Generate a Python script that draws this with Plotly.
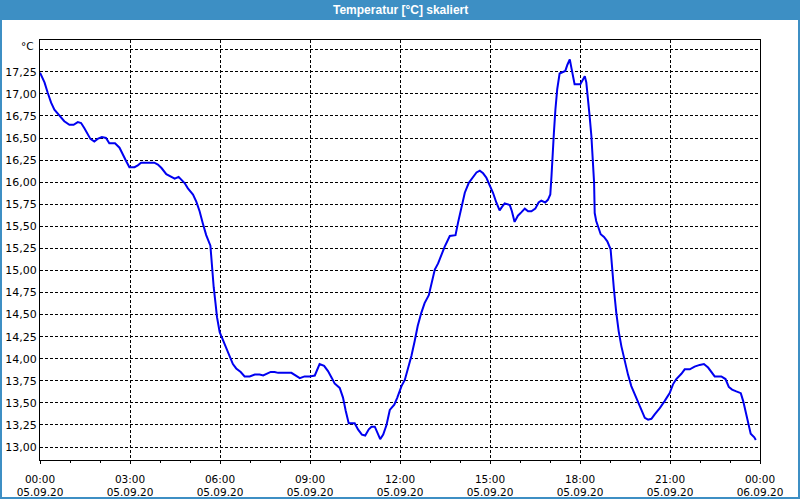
import datetime as dt
import plotly.graph_objects as go

# hours after 05.09.20 00:00 and temperature in °C
hours = [0.00, 0.15, 0.26, 0.37, 0.48, 0.65, 0.81, 0.98, 1.12, 1.26, 1.37, 1.48, 1.59, 1.68, 1.81, 1.92,
         2.06, 2.20, 2.31, 2.50, 2.65, 2.76, 2.87, 2.98, 3.15, 3.26, 3.37, 3.59, 3.81, 3.93, 4.05, 4.21,
         4.38, 4.49, 4.62, 4.71, 4.82, 4.93, 5.10, 5.21, 5.32, 5.43, 5.54, 5.68, 5.73, 5.79, 5.85, 5.90,
         5.99, 6.10, 6.21, 6.32, 6.43, 6.54, 6.69, 6.82, 6.99, 7.16, 7.32, 7.44, 7.55, 7.69, 7.82, 7.94,
         8.38, 8.49, 8.66, 8.82, 8.99, 9.16, 9.25, 9.32, 9.47, 9.60, 9.73, 9.82, 9.99, 10.10, 10.19, 10.29,
         10.49, 10.60, 10.73, 10.84, 10.96, 11.05, 11.16, 11.25, 11.34, 11.44, 11.55, 11.66, 11.81, 11.91,
         11.99, 12.05, 12.16, 12.27, 12.38, 12.49, 12.59, 12.71, 12.82, 12.96, 13.05, 13.16, 13.27, 13.38,
         13.49, 13.66, 13.85, 13.94, 14.05, 14.16, 14.29, 14.44, 14.55, 14.66, 14.77, 14.88, 14.99, 15.10,
         15.21, 15.32, 15.40, 15.49, 15.66, 15.73, 15.82, 15.93, 16.05, 16.16, 16.27, 16.38, 16.51, 16.62,
         16.71, 16.84, 16.93, 17.01, 17.05, 17.08, 17.13, 17.18, 17.24, 17.32, 17.43, 17.51, 17.58, 17.66,
         17.71, 17.77, 17.82, 18.01, 18.07, 18.16, 18.21, 18.27, 18.32, 18.38, 18.43, 18.47, 18.49, 18.54,
         18.60, 18.69, 18.80, 18.91, 19.02, 19.06, 19.13, 19.21, 19.29, 19.38, 19.49, 19.60, 19.71, 19.82,
         19.94, 20.05, 20.16, 20.27, 20.38, 20.49, 20.66, 20.82, 20.99, 21.10, 21.21, 21.38, 21.49, 21.66,
         21.82, 21.99, 22.13, 22.27, 22.41, 22.49, 22.71, 22.85, 22.96, 23.07, 23.21, 23.36, 23.44, 23.53,
         23.61, 23.69, 23.81, 23.86]
temps = [17.24, 17.13, 17.01, 16.90, 16.82, 16.75, 16.69, 16.65, 16.65, 16.68, 16.67, 16.61, 16.54, 16.49, 16.46, 16.49,
         16.51, 16.50, 16.44, 16.44, 16.39, 16.31, 16.24, 16.17, 16.17, 16.19, 16.22, 16.22, 16.22, 16.20, 16.16, 16.09,
         16.06, 16.04, 16.06, 16.03, 15.99, 15.93, 15.86, 15.78, 15.67, 15.53, 15.40, 15.28, 15.04, 14.81, 14.63, 14.47,
         14.30, 14.21, 14.11, 14.02, 13.94, 13.89, 13.85, 13.80, 13.80, 13.82, 13.82, 13.81, 13.83, 13.85, 13.85, 13.84,
         13.84, 13.82, 13.78, 13.80, 13.80, 13.81, 13.88, 13.94, 13.92, 13.86, 13.78, 13.72, 13.67, 13.56, 13.41, 13.27,
         13.27, 13.20, 13.14, 13.13, 13.20, 13.23, 13.23, 13.16, 13.09, 13.14, 13.25, 13.42, 13.48, 13.56,
         13.63, 13.69, 13.76, 13.89, 14.03, 14.20, 14.37, 14.52, 14.63, 14.72, 14.84, 15.01, 15.08, 15.18,
         15.27, 15.39, 15.40, 15.55, 15.72, 15.88, 15.99, 16.06, 16.11, 16.13, 16.10, 16.05, 15.97, 15.88,
         15.77, 15.68, 15.72, 15.76, 15.74, 15.67, 15.55, 15.62, 15.66, 15.70, 15.67, 15.67, 15.70, 15.77,
         15.79, 15.77, 15.80, 15.86, 16.07, 16.30, 16.56, 16.82, 17.05, 17.23, 17.25, 17.26, 17.33, 17.39,
         17.30, 17.20, 17.11, 17.11, 17.14, 17.20, 17.13, 16.96, 16.75, 16.52, 16.26, 15.99, 15.65, 15.56,
         15.50, 15.41, 15.38, 15.33, 15.24, 15.05, 14.79, 14.52, 14.31, 14.14, 13.97, 13.82, 13.69, 13.60,
         13.52, 13.42, 13.33, 13.31, 13.32, 13.37, 13.44, 13.52, 13.61, 13.71, 13.77, 13.83, 13.88, 13.88,
         13.91, 13.93, 13.94, 13.90, 13.84, 13.80, 13.80, 13.77, 13.68, 13.65, 13.63, 13.61, 13.52, 13.39,
         13.27, 13.15, 13.11, 13.08]

x_tick_hours = [0, 3, 6, 9, 12, 15, 18, 21, 24]
x_tick_labels = ["00:00<br>05.09.20", "03:00<br>05.09.20", "06:00<br>05.09.20", "09:00<br>05.09.20",
                 "12:00<br>05.09.20", "15:00<br>05.09.20", "18:00<br>05.09.20", "21:00<br>05.09.20",
                 "00:00<br>06.09.20"]
y_tick_vals = [13.00, 13.25, 13.50, 13.75, 14.00, 14.25, 14.50, 14.75, 15.00, 15.25, 15.50, 15.75,
               16.00, 16.25, 16.50, 16.75, 17.00, 17.25, 17.50]
y_tick_labels = ["13,00", "13,25", "13,50", "13,75", "14,00", "14,25", "14,50", "14,75", "15,00", "15,25",
                 "15,50", "15,75", "16,00", "16,25", "16,50", "16,75", "17,00", "17,25", ""]

base = dt.datetime(2020, 9, 5)
times = [base + dt.timedelta(hours=h) for h in hours]
tickvals = [base + dt.timedelta(hours=h) for h in x_tick_hours]

FONT = "DejaVu Sans"
W, H = 800, 500
L, R, T, B = 40, 40, 40, 40
pw, ph = W - L - R, H - T - B


def px(x):
    return (x - L) / pw


def py(y):
    return (H - B - y) / ph


fig = go.Figure()
fig.add_trace(go.Scatter(x=times, y=temps, mode="lines",
                         line=dict(color="#0000f0", width=2), showlegend=False))

fig.update_layout(
    width=W, height=H,
    margin=dict(l=L, r=R, t=T, b=B, autoexpand=False),
    paper_bgcolor="white", plot_bgcolor="white",
    font=dict(family=FONT, size=10.5, color="black"),
    xaxis=dict(
        type="date", automargin=False,
        range=[base, base + dt.timedelta(hours=24)],
        tickmode="array", tickvals=tickvals, ticktext=x_tick_labels,
        tickfont=dict(size=10.5),
        showgrid=True, gridcolor="black", gridwidth=1, griddash="3px,2px",
        showline=True, linecolor="black", linewidth=1, mirror=True,
        ticks="outside", ticklen=3, tickcolor="black", ticklabelstandoff=6,
        minor=dict(dtick=3600000, ticks="outside", ticklen=2, tickcolor="black", showgrid=False),
        zeroline=False, fixedrange=True,
    ),
    yaxis=dict(
        automargin=False,
        range=[12.853, 17.61],
        tickmode="array", tickvals=y_tick_vals, ticktext=y_tick_labels,
        tickfont=dict(size=11),
        showgrid=True, gridcolor="black", gridwidth=1, griddash="3px,2px",
        showline=True, linecolor="black", linewidth=1, mirror=True,
        ticks="", zeroline=False, fixedrange=True,
    ),
    shapes=[
        dict(type="rect", xref="paper", yref="paper",
             x0=px(0), x1=px(800), y0=py(0), y1=py(20),
             fillcolor="#3d8fc4", line=dict(width=0), layer="above"),
        dict(type="rect", xref="paper", yref="paper",
             x0=px(1), x1=px(799), y0=py(1), y1=py(498),
             fillcolor="rgba(0,0,0,0)", line=dict(color="#3d8fc4", width=2), layer="above"),
    ],
    annotations=[
        dict(text="<b>Temperatur [°C] skaliert</b>", xref="paper", yref="paper",
             x=px(400), y=py(10), xanchor="center", yanchor="middle", showarrow=False,
             font=dict(family="Liberation Sans", size=12, color="white")),
        dict(text="°C", xref="paper", yref="paper", x=px(36), y=py(46),
             xanchor="right", yanchor="middle", showarrow=False,
             font=dict(family=FONT, size=10.5, color="black")),
    ],
)

fig.write_html("out.html")
